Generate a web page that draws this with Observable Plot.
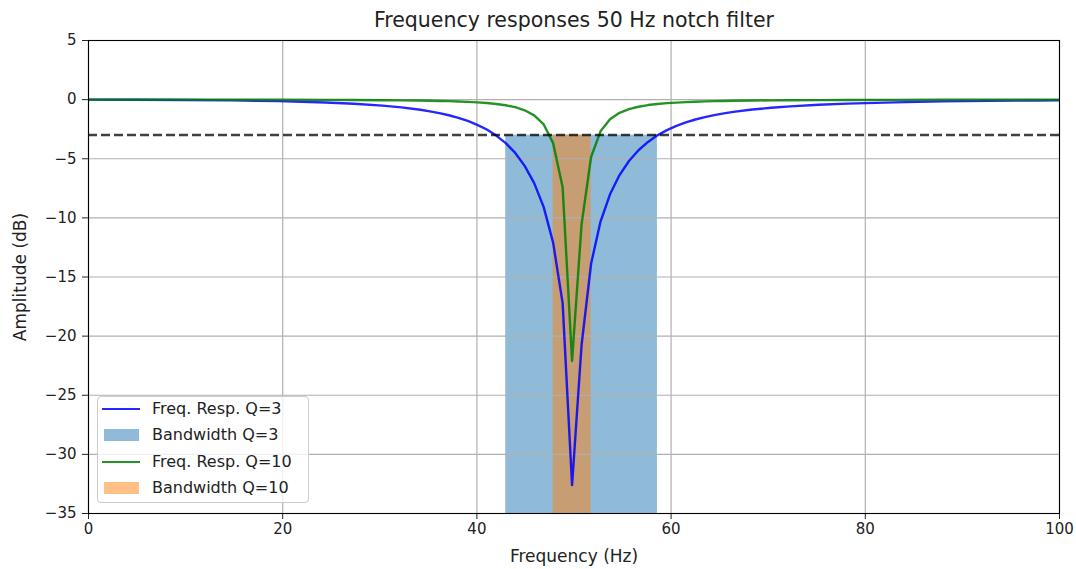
<!DOCTYPE html>
<html>
<head>
<meta charset="utf-8">
<script src="https://cdn.jsdelivr.net/npm/d3@7"></script>
<script src="https://cdn.jsdelivr.net/npm/@observablehq/plot@0.6"></script>
<style>
  html, body { margin: 0; padding: 0; background: #fff; }
  #wrap { position: relative; width: 1076px; height: 569px; font-family: "DejaVu Sans", sans-serif; }
  #legend { position: absolute; left: 97px; top: 396px; width: 212px; height: 107px;
            border: 1px solid #cccccc; border-radius: 4px; background: rgba(255,255,255,0.8); box-sizing: border-box; }
  .item { position: absolute; left: 0; height: 20px; width: 100%; }
  .item .txt { position: absolute; left: 54px; top: 0; line-height: 20px; font-size: 16px; color: #222; white-space: nowrap; }
  .item .sw { position: absolute; }
</style>
</head>
<body>
<div id="wrap"></div>
<script>
// ---- data ----
const freqHz = [0, 4.88, 9.77, 14.65, 19.53, 24.41, 27.34, 30.27, 32.23, 34.18, 35.16, 36.13, 37.11, 38.09, 39.06,
  40.04, 41.02, 41.99, 42.97, 43.95, 44.92, 45.90, 46.88, 47.85, 48.83, 49.80, 50.78, 51.76, 52.73, 53.71,
  54.69, 55.66, 56.64, 57.62, 58.59, 59.57, 60.55, 61.52, 62.50, 63.48, 64.45, 65.43, 66.41, 68.36, 70.31,
  72.27, 75.20, 78.13, 83.01, 87.89, 92.77, 97.66, 100.59];
const respQ3 = [0, -0.01, -0.03, -0.06, -0.13, -0.24, -0.35, -0.51, -0.66, -0.86, -0.99, -1.14, -1.32, -1.54, -1.80,
  -2.13, -2.53, -3.04, -3.68, -4.51, -5.60, -7.06, -9.09, -12.09, -17.21, -32.60, -20.75, -13.88, -10.31, -8.01,
  -6.38, -5.19, -4.28, -3.58, -3.02, -2.58, -2.22, -1.93, -1.68, -1.48, -1.31, -1.16, -1.04, -0.84, -0.69,
  -0.57, -0.43, -0.34, -0.23, -0.15, -0.10, -0.07, -0.05];
const respQ10 = [0, 0, 0, -0.01, -0.01, -0.02, -0.03, -0.05, -0.06, -0.08, -0.10, -0.11, -0.13, -0.16, -0.19,
  -0.23, -0.29, -0.37, -0.48, -0.64, -0.90, -1.33, -2.10, -3.68, -7.42, -22.10, -10.54, -4.85, -2.68, -1.66,
  -1.12, -0.80, -0.60, -0.46, -0.37, -0.30, -0.25, -0.21, -0.18, -0.15, -0.13, -0.12, -0.10, -0.08, -0.06,
  -0.05, -0.04, -0.03, -0.02, -0.01, -0.01, -0.01, 0];
const bandQ3 = [42.97, 58.59];
const bandQ10 = [47.85, 51.76];
const cutoffDb = -3;
const yFloor = -35;
const xTicks = [0, 20, 40, 60, 80, 100];
const yTicks = [-35, -30, -25, -20, -15, -10, -5, 0, 5];
const seriesLabels = ["Freq. Resp. Q=3", "Bandwidth Q=3", "Freq. Resp. Q=10", "Bandwidth Q=10"];
const seriesKinds = ["line", "band", "line", "band"];
const seriesColors = ["blue", "#1f77b4", "green", "#ff7f0e"];
const titleText = "Frequency responses 50 Hz notch filter";
const xLabel = "Frequency (Hz)";
const yLabel = "Amplitude (dB)";

// ---- build tables ----
const lineQ3 = freqHz.map((f, i) => ({f, db: respQ3[i]}));
const lineQ10 = freqHz.map((f, i) => ({f, db: respQ10[i]}));
const band3 = [{x1: bandQ3[0], x2: bandQ3[1], y1: yFloor, y2: cutoffDb}];
const band10 = [{x1: bandQ10[0], x2: bandQ10[1], y1: yFloor, y2: cutoffDb}];
const fmt = d => d < 0 ? "\u2212" + Math.abs(d) : String(d);

const chart = Plot.plot({
  width: 1076,
  height: 569,
  marginTop: 40,
  marginLeft: 88,
  marginRight: 17,
  marginBottom: 56,
  style: {fontFamily: "DejaVu Sans, sans-serif", fontSize: "15px", color: "#222", background: "white"},
  x: {domain: [0, 100], ticks: xTicks, tickSize: 6, tickPadding: 4, tickFormat: fmt, label: null},
  y: {domain: [-35, 5], ticks: yTicks, tickSize: 6, tickPadding: 6, tickFormat: fmt, label: null},
  marks: [
    Plot.rect(band3, {x1: "x1", x2: "x2", y1: "y1", y2: "y2", fill: seriesColors[1], fillOpacity: 0.5}),
    Plot.rect(band10, {x1: "x1", x2: "x2", y1: "y1", y2: "y2", fill: seriesColors[3], fillOpacity: 0.5}),
    Plot.ruleX(xTicks, {stroke: "#b0b0b0", strokeWidth: 1.2}),
    Plot.ruleY(yTicks, {stroke: "#b0b0b0", strokeWidth: 1.2}),
    Plot.line(lineQ3, {x: "f", y: "db", stroke: seriesColors[0], strokeOpacity: 0.85, strokeWidth: 2.4, clip: true}),
    Plot.line(lineQ10, {x: "f", y: "db", stroke: seriesColors[2], strokeOpacity: 0.85, strokeWidth: 2.4, clip: true}),
    Plot.ruleY([cutoffDb], {stroke: "black", strokeOpacity: 0.75, strokeWidth: 2.5, strokeDasharray: "9,4"}),
    Plot.frame({stroke: "black", strokeWidth: 1.1}),
    Plot.text([titleText], {frameAnchor: "top", dy: -20, lineAnchor: "middle", textAnchor: "middle", text: d => d, fontSize: 20.5, fill: "#222"}),
    Plot.text([xLabel], {frameAnchor: "bottom", dy: 43, lineAnchor: "middle", textAnchor: "middle", text: d => d, fontSize: 17, fill: "#222"}),
    Plot.text([yLabel], {frameAnchor: "left", dx: -68, rotate: -90, lineAnchor: "middle", textAnchor: "middle", text: d => d, fontSize: 17, fill: "#222"})
  ]
});

const wrap = document.getElementById("wrap");
wrap.appendChild(chart);

// ---- legend ----
const legend = document.createElement("div");
legend.id = "legend";
seriesLabels.forEach((label, i) => {
  const item = document.createElement("div");
  item.className = "item";
  item.style.top = (2 + i * 26.3) + "px";
  const sw = document.createElement("div");
  sw.className = "sw";
  if (seriesKinds[i] === "line") {
    sw.style.left = "4px"; sw.style.width = "38px"; sw.style.top = "9px"; sw.style.height = "2.4px";
    sw.style.background = seriesColors[i]; sw.style.opacity = 0.85;
  } else {
    sw.style.left = "6px"; sw.style.width = "35px"; sw.style.top = "4px"; sw.style.height = "12px";
    sw.style.background = seriesColors[i]; sw.style.opacity = 0.5;
  }
  const txt = document.createElement("span");
  txt.className = "txt";
  txt.textContent = label;
  item.appendChild(sw);
  item.appendChild(txt);
  legend.appendChild(item);
});
wrap.appendChild(legend);
</script>
</body>
</html>
